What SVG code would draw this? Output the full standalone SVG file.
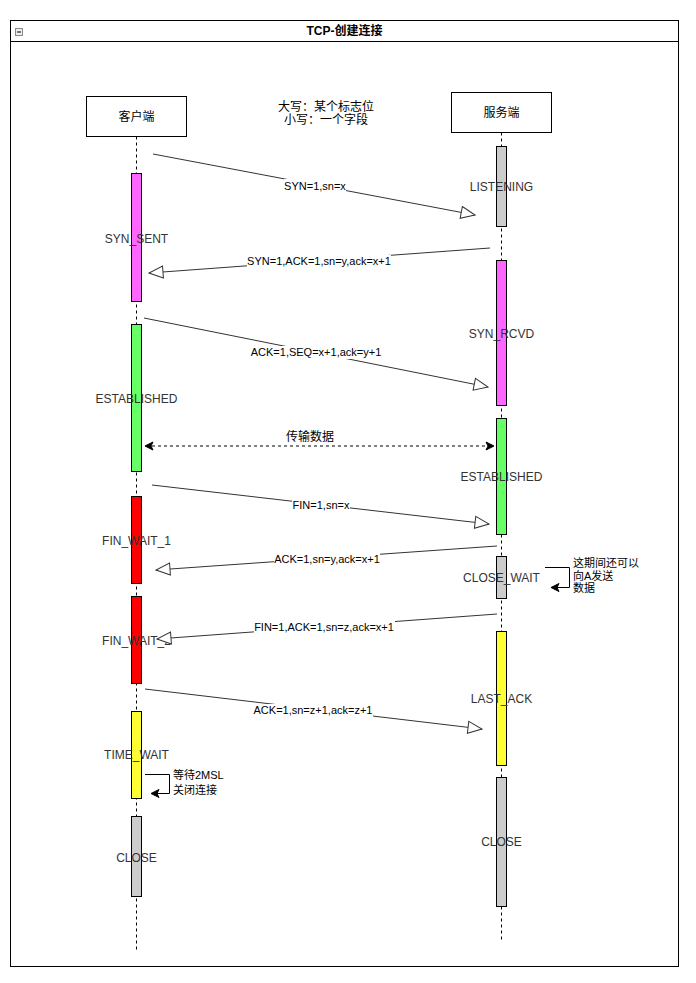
<svg xmlns="http://www.w3.org/2000/svg" width="696" height="983" viewBox="0 0 696 983">
<defs>
<style>
text{font-family:"Liberation Sans",Arial,"Noto Sans CJK SC",sans-serif;}
.lbl{font-size:11px;fill:#000;text-anchor:middle;dominant-baseline:central;}
.big{font-size:12px;fill:#000;text-anchor:middle;dominant-baseline:central;}
.st{font-size:12px;fill:#333;text-anchor:middle;dominant-baseline:central;}
.note{font-size:11px;fill:#000;dominant-baseline:central;}
.life{stroke:#000;stroke-width:1;stroke-dasharray:3 3;fill:none;}
.bar{stroke:#000;stroke-width:1;}
.msg{stroke:#333;stroke-width:1;fill:none;marker-end:url(#open);}
.bg{fill:#fff;}
</style>
<marker id="open" markerUnits="userSpaceOnUse" markerWidth="16" markerHeight="14" refX="14" refY="6" orient="auto" viewBox="-1 -1 16 14">
<path d="M0,0 L14,6 L0,12 Z" fill="#fff" stroke="#333" stroke-width="1"/>
</marker>
<marker id="solid" markerUnits="userSpaceOnUse" markerWidth="10" markerHeight="10" refX="8" refY="4" orient="auto" viewBox="-1 -1 10 10">
<path d="M0,0 L8,4 L0,8 L2,4 Z" fill="#000" stroke="#000" stroke-width="1"/>
</marker>
<marker id="solidS" markerUnits="userSpaceOnUse" markerWidth="10" markerHeight="10" refX="1" refY="4" orient="auto" viewBox="-1 -1 10 10">
<path d="M8,0 L0,4 L8,8 L6,4 Z" fill="#000" stroke="#000" stroke-width="1"/>
</marker>
</defs>
<rect width="696" height="983" fill="#fff"/>
<g id="frame">
<rect x="10.5" y="20.5" width="668" height="946" fill="#fff" stroke="#000" stroke-width="1"/>
<line x1="10.5" y1="41.5" x2="678.5" y2="41.5" stroke="#000" stroke-width="1"/>
<rect x="15.5" y="28.5" width="7" height="7" fill="#eee" stroke="#888" stroke-width="1"/>
<line x1="17" y1="32" x2="21" y2="32" stroke="#000" stroke-width="1"/>
<text x="344.5" y="31" font-size="12" font-weight="bold" text-anchor="middle" dominant-baseline="central">TCP-创建连接</text>
</g>
<g id="lifelines">
<line class="life" x1="136.5" y1="136.5" x2="136.5" y2="950"/>
<line class="life" x1="501.5" y1="132.5" x2="501.5" y2="940"/>
</g>
<g id="client">
<rect x="86.5" y="96.5" width="100" height="40" fill="#fff" stroke="#000"/>
<text class="big" x="136.5" y="117">客户端</text>
</g>
<g id="server">
<rect x="451.5" y="92.5" width="100" height="40" fill="#fff" stroke="#000"/>
<text class="big" x="501.5" y="113">服务端</text>
</g>
<g id="legend">
<text class="big" x="326" y="107">大写：某个标志位</text>
<text class="big" x="326" y="120">小写：一个字段</text>
</g>
<g id="client-states">
<g id="c-syn-sent"><rect class="bar" x="131.5" y="173.5" width="10" height="128" fill="#FF66FF"/><text class="st" x="136.5" y="239">SYN_SENT</text></g>
<g id="c-established"><rect class="bar" x="131.5" y="324.5" width="10" height="147" fill="#66FF66"/><text class="st" x="136.5" y="399">ESTABLISHED</text></g>
<g id="c-fin-wait-1"><rect class="bar" x="131.5" y="496.5" width="10" height="87" fill="#FF0000"/><text class="st" x="136.5" y="541">FIN_WAIT_1</text></g>
<g id="c-fin-wait-2"><rect class="bar" x="131.5" y="596.5" width="10" height="87" fill="#FF0000"/><text class="st" x="136.5" y="641">FIN_WAIT_2</text></g>
<g id="c-time-wait"><rect class="bar" x="131.5" y="711.5" width="10" height="87" fill="#FFFF33"/><text class="st" x="136.5" y="755">TIME_WAIT</text></g>
<g id="c-close"><rect class="bar" x="131.5" y="816.5" width="10" height="80" fill="#CCCCCC"/><text class="st" x="136.5" y="858">CLOSE</text></g>
</g>
<g id="server-states">
<g id="s-listening"><rect class="bar" x="496.5" y="146.5" width="10" height="80" fill="#CCCCCC"/><text class="st" x="501.5" y="187">LISTENING</text></g>
<g id="s-syn-rcvd"><rect class="bar" x="496.5" y="260.5" width="10" height="145" fill="#FF66FF"/><text class="st" x="501.5" y="334">SYN_RCVD</text></g>
<g id="s-established"><rect class="bar" x="496.5" y="418.5" width="10" height="116" fill="#66FF66"/><text class="st" x="501.5" y="477">ESTABLISHED</text></g>
<g id="s-close-wait"><rect class="bar" x="496.5" y="556.5" width="10" height="42" fill="#CCCCCC"/><text class="st" x="501.5" y="578">CLOSE_WAIT</text></g>
<g id="s-last-ack"><rect class="bar" x="496.5" y="631.5" width="10" height="134" fill="#FFFF33"/><text class="st" x="501.5" y="699">LAST_ACK</text></g>
<g id="s-close"><rect class="bar" x="496.5" y="777.5" width="10" height="129" fill="#CCCCCC"/><text class="st" x="501.5" y="842">CLOSE</text></g>
</g>
<g id="connectors">
<path class="msg" d="M153,154 L475,215"/>
<rect class="bg" x="284" y="179" width="62" height="13"/>
<text class="lbl" x="315" y="185.5">SYN=1,sn=x</text>

<path class="msg" d="M490,248 L149,273"/>
<rect class="bg" x="247" y="255" width="144" height="13"/>
<text class="lbl" x="319" y="261">SYN=1,ACK=1,sn=y,ack=x+1</text>

<path class="msg" d="M144,318 L488,387"/>
<rect class="bg" x="251" y="346" width="130" height="13"/>
<text class="lbl" x="316" y="352">ACK=1,SEQ=x+1,ack=y+1</text>

<path d="M146,446 L494,446" stroke="#000" stroke-width="1" stroke-dasharray="3 3" fill="none" marker-start="url(#solidS)" marker-end="url(#solid)"/>
<text class="big" x="310" y="437">传输数据</text>

<path class="msg" d="M152,485 L489,524"/>
<rect class="bg" x="292" y="499" width="58" height="13"/>
<text class="lbl" x="321" y="505">FIN=1,sn=x</text>

<path class="msg" d="M497,546 L156,570"/>
<rect class="bg" x="274" y="552" width="106" height="13"/>
<text class="lbl" x="327" y="558.5">ACK=1,sn=y,ack=x+1</text>

<path d="M545,567.5 L569.5,567.5 L569.5,587.5 L551,587.5" stroke="#000" stroke-width="1" fill="none" marker-end="url(#solid)"/>
<text class="note" x="573" y="562.5">这期间还可以</text>
<text class="note" x="573" y="575.5">向A发送</text>
<text class="note" x="573" y="588">数据</text>

<path class="msg" d="M497,614 L157,639"/>
<rect class="bg" x="254" y="621" width="141" height="13"/>
<text class="lbl" x="324" y="627">FIN=1,ACK=1,sn=z,ack=x+1</text>

<path class="msg" d="M145,689 L482,729"/>
<rect class="bg" x="253" y="704" width="120" height="13"/>
<text class="lbl" x="313" y="710">ACK=1,sn=z+1,ack=z+1</text>

<path d="M145,774.5 L169.5,774.5 L169.5,793.5 L151,793.5" stroke="#000" stroke-width="1" fill="none" marker-end="url(#solid)"/>
<text class="note" x="173" y="775">等待2MSL</text>
<text class="note" x="173" y="789.5">关闭连接</text>
</g>
</svg>
